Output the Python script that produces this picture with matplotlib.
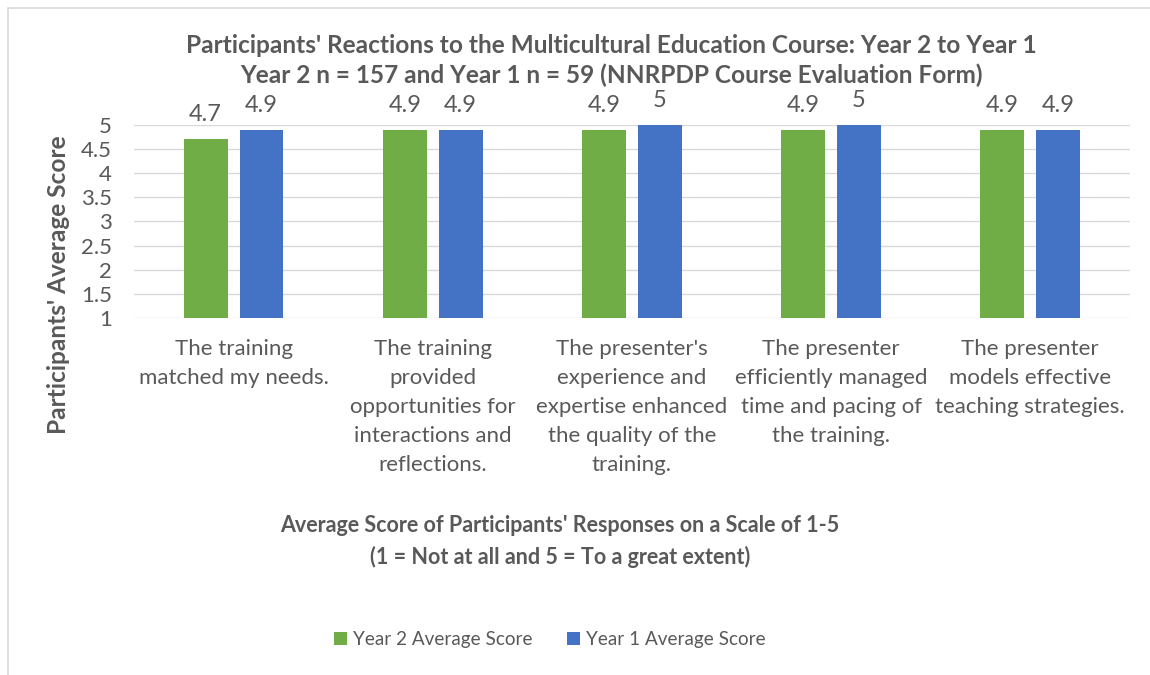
import numpy as np
import matplotlib.pyplot as plt
from matplotlib.patches import Rectangle

categories = [
    "The training\nmatched my needs.",
    "The training\nprovided\nopportunities for\ninteractions and\nreflections.",
    "The presenter's\nexperience and\nexpertise enhanced\nthe quality of the\ntraining.",
    "The presenter\nefficiently managed\ntime and pacing of\nthe training.",
    "The presenter\nmodels effective\nteaching strategies.",
]
year2 = [4.7, 4.9, 4.9, 4.9, 4.9]
year1 = [4.9, 4.9, 5, 5, 4.9]
labels2 = ["4.7", "4.9", "4.9", "4.9", "4.9"]
labels1 = ["4.9", "4.9", "5", "5", "4.9"]

plt.rcParams['font.family'] = ['Lato', 'DejaVu Sans']
gray = "#595959"
green = "#70ad47"
blue = "#4472c4"

fig = plt.figure(figsize=(11.5, 6.75), dpi=100)
ax = fig.add_axes([0.1165, 0.529, 0.866, 0.286])

x = np.arange(len(categories))
w = 0.22
b2 = ax.bar(x - 0.14, np.array(year2) - 1, w, bottom=1, color=green, label="Year 2 Average Score")
b1 = ax.bar(x + 0.14, np.array(year1) - 1, w, bottom=1, color=blue, label="Year 1 Average Score")

# data labels above each bar
for bars, labs in [(b2, labels2), (b1, labels1)]:
    for r, t in zip(bars, labs):
        ax.annotate(t, (r.get_x() + r.get_width() / 2, r.get_y() + r.get_height()),
                    xytext=(0, 10), textcoords="offset points", ha="center", va="bottom",
                    fontsize=17, color=gray)

ax.set_ylim(1, 5)
ax.set_xlim(-0.5, 4.5)
ax.set_yticks(np.arange(1, 5.01, 0.5))
ax.set_yticklabels(["1", "1.5", "2", "2.5", "3", "3.5", "4", "4.5", "5"])
ax.yaxis.grid(True, color="#d9d9d9", linewidth=1)
ax.set_axisbelow(True)
for s in ax.spines.values():
    s.set_visible(False)
ax.tick_params(axis="y", length=0, labelsize=16, labelcolor=gray, pad=16)
ax.set_xticks(x)
ax.set_xticklabels(categories, fontsize=16, color=gray, linespacing=1.56, va="top")
ax.tick_params(axis="x", length=0, pad=15)

fig.text(0.532, 0.932, "Participants' Reactions to the Multicultural Education Course: Year 2 to Year 1",
         ha="center", va="center", fontsize=17.6, fontweight="bold", color=gray)
fig.text(0.532, 0.889, "Year 2 n = 157 and Year 1 n = 59 (NNRPDP Course Evaluation Form)",
         ha="center", va="center", fontsize=17.6, fontweight="bold", color=gray)
fig.text(0.051, 0.578, "Participants' Average Score", rotation=90, ha="center", va="center",
         fontsize=17.6, fontweight="bold", color=gray)
fig.text(0.487, 0.222, "Average Score of Participants' Responses on a Scale of 1-5",
         ha="center", va="center", fontsize=15.5, fontweight="bold", color=gray)
fig.text(0.487, 0.175, "(1 = Not at all and 5 = To a great extent)",
         ha="center", va="center", fontsize=15.5, fontweight="bold", color=gray)

fig.legend(handles=[b2, b1], loc="center", bbox_to_anchor=(0.478, 0.052), ncol=2, frameon=False,
           fontsize=13.6, labelcolor=gray, handlelength=0.7, handleheight=0.7, handletextpad=0.3,
           columnspacing=1.8)

# light chart-area border
fig.patches.append(Rectangle((0.007, -0.02), 1.1, 1.008, transform=fig.transFigure,
                             fill=False, edgecolor="#d9d9d9", linewidth=1.2))

fig.savefig("out.png", dpi=100)
